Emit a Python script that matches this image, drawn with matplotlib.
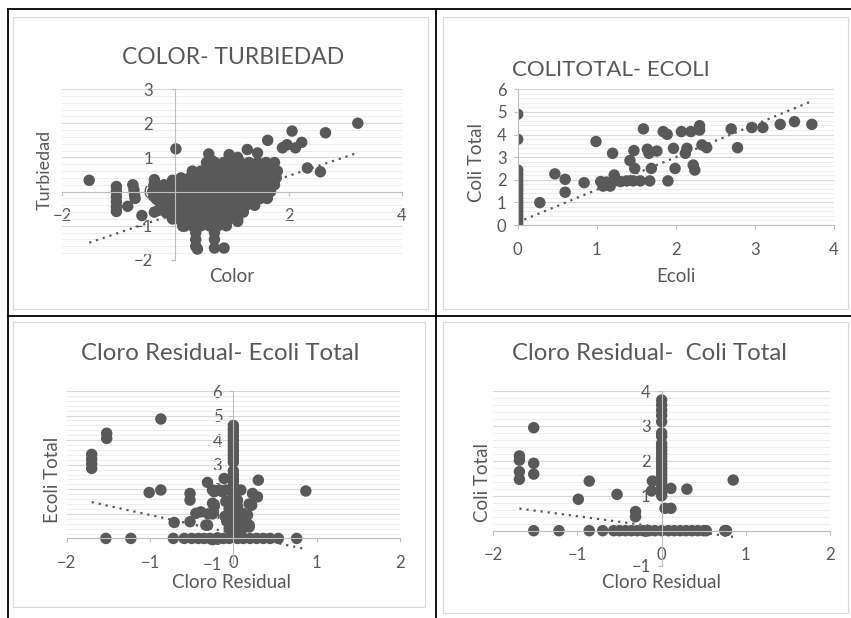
import numpy as np
import matplotlib
matplotlib.use('Agg')
from matplotlib import pyplot as plt
from matplotlib.patches import Rectangle
from matplotlib.lines import Line2D

# ---- data ----
# panel 1: Color vs Turbiedad
color_x = [-1.52, 0.01,
           -1.04, -1.04, -1.04, -1.04, -1.04, -1.04, -0.84,
           -0.75, -0.73, -0.72, -0.71, -0.59,
           -0.37, -0.38, -0.40, -0.38, -0.33, -0.30, -0.37, -0.30, -0.05,
           3.22, 2.65, 2.06, 2.23, 2.12, 1.97, 1.89, 1.63, 2.33, 2.56,
           0.59, 0.95, 1.27, 1.45, 1.10, 0.65,
           0.36, 0.36, 0.36, 0.39, 0.69, 0.69, 0.69, 0.86,
           0.16, 1.10, 1.62, -0.16, 0.13,
           0.55, 0.70, 0.85, 1.00, 1.15, 1.30, 1.45, 1.60, 1.75,
           0.30, 0.45, 0.60, 0.75, 0.90, 1.05, 1.20, 1.35, 1.50, 1.65, 1.80,
           0.10, 0.25, 0.40, 0.55, 0.70, 0.85, 1.00, 1.15, 1.30, 1.45, 1.60, 1.78,
           -0.20, -0.05, 0.10, 0.25, 0.40, 0.55, 0.70, 0.85, 1.00, 1.15, 1.30, 1.45, 1.60, 1.75,
           -0.28, -0.15, 0.00, 0.15, 0.30, 0.45, 0.60, 0.75, 0.90, 1.05, 1.20, 1.35, 1.50, 1.68,
           -0.30, -0.15, 0.00, 0.15, 0.30, 0.45, 0.60, 0.75, 0.90, 1.05, 1.20, 1.35, 1.50, 1.62,
           -0.25, -0.10, 0.05, 0.20, 0.35, 0.50, 0.65, 0.80, 0.95, 1.10, 1.25, 1.40,
           -0.15, 0.00, 0.15, 0.30, 0.45, 0.60, 0.75, 0.90, 1.05, 1.20,
           -0.05, 0.05, 0.20, 0.35, 0.50, 0.65, 0.80, 0.95, 1.10,
           0.15, 0.30, 0.45, 0.60, 0.75, 0.90]
turb_y = [0.33, 1.25,
          0.15, 0.00, -0.15, -0.30, -0.45, -0.58, -0.43,
          0.20, 0.05, -0.10, -0.20, -0.70,
          0.35, 0.18, 0.00, -0.14, -0.23, 0.10, -0.60, -0.55, 0.33,
          2.00, 1.72, 1.77, 1.44, 1.28, 1.37, 1.28, 1.50, 0.69, 0.58,
          1.10, 1.08, 1.23, 1.13, 1.00, 0.90,
          -1.20, -1.40, -1.60, -1.68, -1.20, -1.40, -1.65, -1.65,
          -1.01, -0.87, -0.19, -0.62, -1.01,
          0.85, 0.85, 0.85, 0.85, 0.85, 0.85, 0.85, 0.85, 0.85,
          0.60, 0.60, 0.60, 0.60, 0.60, 0.60, 0.60, 0.60, 0.60, 0.60, 0.60,
          0.40, 0.40, 0.40, 0.40, 0.40, 0.40, 0.40, 0.40, 0.40, 0.40, 0.40, 0.40,
          0.20, 0.20, 0.20, 0.20, 0.20, 0.20, 0.20, 0.20, 0.20, 0.20, 0.20, 0.20, 0.20, 0.20,
          0.00, 0.00, 0.00, 0.00, 0.00, 0.00, 0.00, 0.00, 0.00, 0.00, 0.00, 0.00, 0.00, 0.00,
          -0.20, -0.20, -0.20, -0.20, -0.20, -0.20, -0.20, -0.20, -0.20, -0.20, -0.20, -0.20, -0.20, -0.20,
          -0.40, -0.40, -0.40, -0.40, -0.40, -0.40, -0.40, -0.40, -0.40, -0.40, -0.40, -0.40,
          -0.60, -0.60, -0.60, -0.60, -0.60, -0.60, -0.60, -0.60, -0.60, -0.60,
          -0.80, -0.80, -0.80, -0.80, -0.80, -0.80, -0.80, -0.80, -0.80,
          -1.00, -1.00, -1.00, -1.00, -1.00, -1.00]
trend1 = [0.555, -0.65]   # slope, intercept

# panel 2: Ecoli vs Coli Total
ecoli_x = [0, 0, 0, 0, 0, 0, 0, 0, 0, 0, 0, 0, 0, 0, 0, 0, 0, 0, 0,
           0.28, 0.47, 0.60, 0.60, 0.84, 0.99,
           1.05, 1.08, 1.12, 1.17, 1.20, 1.22, 1.25, 1.30, 1.38, 1.46, 1.55, 1.67,
           1.42, 1.47, 1.48, 1.59, 1.64, 1.66, 1.76, 1.69,
           1.84, 1.89, 1.90, 1.97, 1.99,
           2.07, 2.19, 2.30, 2.30, 2.14, 2.12, 2.33, 2.39, 2.22, 2.24,
           2.70, 2.78, 2.96, 3.10, 3.32, 3.50, 3.72]
coli_y = [4.90, 3.79, 2.43, 2.25, 2.10, 1.95, 1.80, 1.65, 1.50, 1.35, 1.20, 1.05,
          0.90, 0.75, 0.60, 0.45, 0.30, 0.15, 0.00,
          0.99, 2.26, 2.02, 1.45, 1.87, 3.69,
          1.92, 1.72, 1.90, 1.72, 3.17, 2.21, 1.97, 1.92, 1.95, 1.95, 1.95, 1.95,
          2.85, 3.29, 2.50, 4.25, 3.35, 3.17, 3.27, 2.50,
          4.13, 4.01, 1.95, 3.39, 2.50,
          4.13, 4.13, 4.39, 4.20, 3.39, 3.17, 3.54, 3.42, 2.65, 2.43,
          4.25, 3.42, 4.31, 4.31, 4.45, 4.57, 4.45]
trend2 = [1.44, 0.12]

# panel 3: Cloro Residual vs Ecoli Total
cloro3_x = [-0.87, -1.52, -1.52, -1.70, -1.70, -1.70, -1.70,
            -1.01, -0.87, -0.52, -0.52, -0.71, -0.52,
            -0.45, -0.39, -0.31, -0.23, -0.33, -0.25, -0.30,
            -0.11, -0.23, -0.13, -0.25, -0.17, -0.09, 0.09,
            0.30, 0.87, 0.23, 0.29, -0.09, 0.19, 0.22, -0.23,
            0.11, 0.17, 0.19, -0.25, -0.31, 0.19,
            -0.05, 0.05, 0.08, -0.08, 0.12, -0.05, 0.10, 0.05, -0.10,
            0, 0, 0, 0, 0, 0, 0, 0, 0, 0, 0, 0, 0, 0, 0,
            0, 0, 0, 0, 0, 0, 0, 0, 0, 0, 0, 0, 0, 0,
            -1.53, -1.23, -0.72, -0.59, -0.50, -0.42, -0.35, -0.28, -0.20, -0.12,
            -0.05, 0.05, 0.12, 0.20, 0.28, 0.36, 0.44, 0.54, 0.76, -0.25]
ecolit_y = [4.86, 4.28, 4.07, 3.42, 3.23, 3.05, 2.85,
            1.87, 1.97, 1.83, 1.56, 0.65, 0.68,
            1.02, 1.08, 2.28, 1.38, 0.54, 1.00, 1.00,
            2.44, 1.90, 1.90, 1.97, 1.97, 1.97, 1.97,
            2.37, 1.93, 1.83, 1.69, 1.50, 1.40, 1.35, 1.31,
            1.02, 0.95, 0.47, 1.43, 0.54, 0.54,
            1.20, 1.30, 0.80, 0.70, 0.60, 0.40, 0.35, 1.55, 0.90,
            4.60, 4.45, 4.30, 4.15, 4.00, 3.85, 3.70, 3.55, 3.40, 3.25, 3.10, 2.75, 2.60, 2.45, 2.30,
            2.15, 2.00, 1.85, 1.70, 1.55, 1.40, 1.25, 1.10, 0.95, 0.80, 0.65, 0.50, 0.35, 0.20,
            0, 0, 0, 0, 0, 0, 0, 0, 0, 0,
            0, 0, 0, 0, 0, 0, 0, 0, 0, -0.05]
trend3 = [-0.745, 0.21]

# panel 4: Cloro Residual vs Coli Total
cloro4_x = [-1.52, -1.69, -1.69, -1.69, -1.69, -1.52, -1.52,
            -0.86, -0.99, -0.53, -0.31, -0.31, -0.11, -0.12,
            0.11, 0.30, 0.04, 0.11, 0.85,
            0, 0, 0, 0, 0, 0, 0, 0, 0, 0, 0, 0, 0, 0, 0, 0, 0, 0, 0, 0, 0, 0, 0,
            -1.52, -1.22, -0.86, -0.70, -0.57, -0.50, -0.43, -0.36, -0.29, -0.22, -0.15, -0.08,
            0.00, 0.08, 0.15, 0.22, 0.29, 0.36, 0.43, 0.50, 0.53, 0.75, 0.77]
colit_y = [2.95, 2.14, 2.02, 1.69, 1.47, 1.93, 1.62,
           1.42, 0.90, 1.04, 0.55, 0.40, 1.42, 1.14,
           1.21, 1.19, 0.64, 0.64, 1.45,
           3.74, 3.60, 3.45, 3.30, 3.12, 2.80, 2.70, 2.50, 2.40, 2.30, 2.20, 2.10, 2.00,
           1.90, 1.80, 1.70, 1.60, 1.50, 1.40, 1.30, 1.20, 1.10, 1.00,
           0, 0, 0, 0, 0, 0, 0, 0, 0, 0, 0, 0,
           0, 0, 0, 0, 0, 0, 0, 0, 0, 0, 0]
trend4 = [-0.319, 0.095]

# ---- style ----
FONT = ['Lato', 'DejaVu Sans']
plt.rcParams['font.family'] = FONT
TXT = '#595959'
DOT = '#595959'
W, H = 851.0, 618.0

fig = plt.figure(figsize=(8.51, 6.18), dpi=100)
fig.patch.set_facecolor('white')


def fx(px):
  return px / W


def fy(py):
  return 1 - py / H


def frame(x0, y0, x1, y1):
  fig.add_artist(Rectangle((fx(x0), fy(y1)), fx(x1) - fx(x0), fy(y0) - fy(y1),
                           transform=fig.transFigure, fill=False,
                           ec='#d9d9d9', lw=0.8))


def hline(x0, x1, y):
  fig.add_artist(Line2D([fx(x0), fx(x1)], [fy(y), fy(y)], transform=fig.transFigure,
                        color='black', lw=1.3))


def vline(x, y0, y1):
  fig.add_artist(Line2D([fx(x), fx(x)], [fy(y0), fy(y1)], transform=fig.transFigure,
                        color='black', lw=1.3))


def panel(x0, x1, ytop, ybot, xlim, ylim, xt, yt, ymin_minor, xs, ys, trend, ypad):
  ax = fig.add_axes([fx(x0), fy(ybot), fx(x1) - fx(x0), fy(ytop) - fy(ybot)])
  ax.patch.set_alpha(0)
  ax.set_xlim(*xlim)
  ax.set_ylim(*ylim)
  ax.set_xticks(xt)
  ax.set_yticks(yt)
  ax.set_yticks(np.arange(ymin_minor, ylim[1] + 0.01, 0.2), minor=True)
  ax.set_xticks([], minor=True)
  ax.set_axisbelow(True)
  ax.grid(which='major', axis='y', color='#d9d9d9', lw=0.8)
  ax.grid(which='minor', axis='y', color='#eeeeee', lw=0.8)
  for s in ['top', 'right']:
    ax.spines[s].set_visible(False)
  ax.spines['left'].set_position(('data', 0))
  ax.spines['bottom'].set_position(('data', 0))
  for s in ['left', 'bottom']:
    ax.spines[s].set_color('#bfbfbf')
    ax.spines[s].set_linewidth(0.8)
  ax.tick_params(which='major', direction='out', length=3, color='#bfbfbf',
                 labelcolor=TXT, labelsize=12)
  ax.tick_params(axis='x', pad=9)
  ax.tick_params(axis='y', pad=ypad)
  ax.tick_params(which='minor', length=0)
  ax.scatter(xs, ys, s=68, color=DOT, edgecolors='none', zorder=2)
  tx = np.array([min(xs), max(xs)])
  ax.plot(tx, trend[0] * tx + trend[1], color=DOT, lw=1.6,
          linestyle=(0, (1, 2.2)), zorder=2)
  return ax


# table lines and chart frames
hline(8, 851, 9)
hline(8, 851, 316)
vline(8, 9, 618)
vline(436, 9, 618)
frame(13, 17, 428, 309)
frame(443, 17, 848, 309)
frame(13, 322, 425, 607)
frame(443, 322, 848, 613)

panel(62, 402, 89, 260, (-2, 4), (-2, 3), [-2, 0, 2, 4], [-2, -1, 0, 1, 2, 3], -2,
      color_x, turb_y, trend1, 13)
panel(517.7, 834, 89.3, 225, (0, 4), (0, 6), [0, 1, 2, 3, 4], [0, 1, 2, 3, 4, 5, 6], 0,
      ecoli_x, coli_y, trend2, 5)
panel(66.7, 400, 391, 563, (-2, 2), (-1, 6), [-2, -1, 0, 1, 2], [-1, 0, 1, 2, 3, 4, 5, 6], 0,
      cloro3_x, ecolit_y, trend3, 5)
panel(493.3, 830, 391, 565.6, (-2, 2), (-1, 4), [-2, -1, 0, 1, 2], [-1, 0, 1, 2, 3, 4], 0,
      cloro4_x, colit_y, trend4, 5)

# titles
fig.text(fx(233), fy(58), 'COLOR- TURBIEDAD', ha='center', va='center', fontsize=16.5, color=TXT)
fig.text(fx(611), fy(70), 'COLITOTAL- ECOLI', ha='center', va='center', fontsize=16, color=TXT)
fig.text(fx(220), fy(353), 'Cloro Residual- Ecoli Total', ha='center', va='center', fontsize=17.3, color=TXT)
fig.text(fx(649), fy(353), 'Cloro Residual-  Coli Total', ha='center', va='center', fontsize=17.3, color=TXT)

# axis titles
fig.text(fx(232), fy(276), 'Color', ha='center', va='center', fontsize=13.5, color=TXT)
fig.text(fx(676), fy(276), 'Ecoli', ha='center', va='center', fontsize=13.5, color=TXT)
fig.text(fx(232), fy(583), 'Cloro Residual', ha='center', va='center', fontsize=13.5, color=TXT)
fig.text(fx(661), fy(583), 'Cloro Residual', ha='center', va='center', fontsize=13.5, color=TXT)
fig.text(fx(45), fy(170), 'Turbiedad', ha='center', va='center', rotation=90, fontsize=13, color=TXT)
fig.text(fx(477), fy(163), 'Coli Total', ha='center', va='center', rotation=90, fontsize=13.5, color=TXT)
fig.text(fx(53), fy(480), 'Ecoli Total', ha='center', va='center', rotation=90, fontsize=13.5, color=TXT)
fig.text(fx(482), fy(482), 'Coli Total', ha='center', va='center', rotation=90, fontsize=13.5, color=TXT)

fig.savefig('out.png', dpi=100)
